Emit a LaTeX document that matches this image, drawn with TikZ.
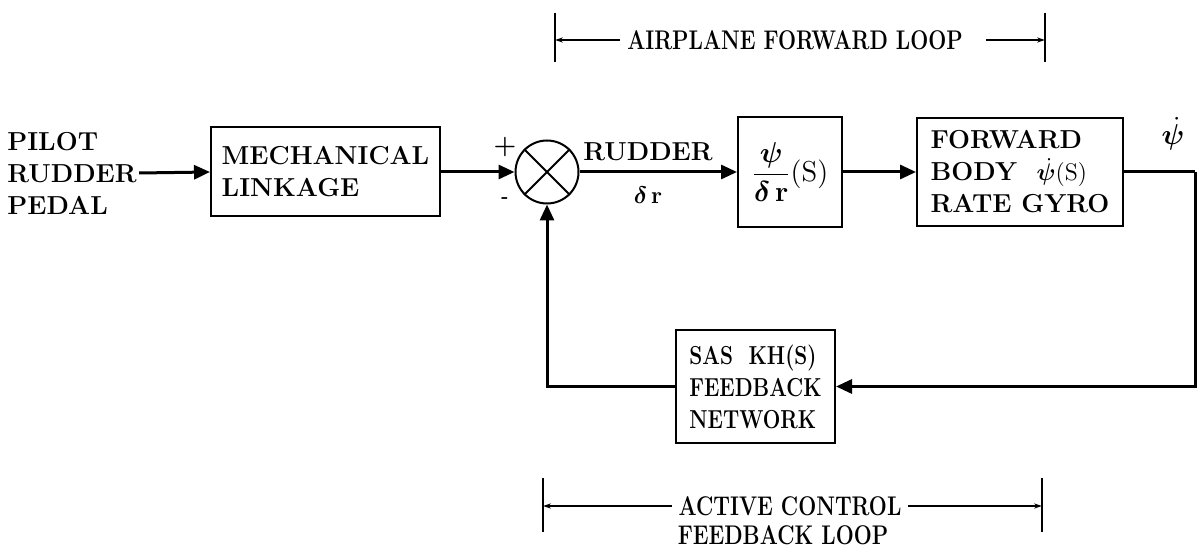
\documentclass[tikz,border=0pt]{standalone}
\usepackage{amsmath,bm}
\usetikzlibrary{arrows.meta}
\begin{document}
\begin{tikzpicture}[x=0.5pt,y=-0.5pt,
  every node/.style={font=\fontsize{13}{16}\selectfont\bfseries},
  dimtxt/.style={font=\fontsize{13.5}{17}\selectfont\bfseries},
  blk/.style={draw,line width=1pt,align=left,inner sep=0pt},
  arr/.style={line width=1.5pt,-{Triangle[length=8pt,width=7pt]}},
  ln/.style={line width=1.5pt},
  dim/.style={line width=0.6pt,-{Stealth[length=4pt,width=2.6pt]}},
  bar/.style={line width=0.6pt}]
\useasboundingbox (0,0) rectangle (1197,550);
% blocks
\node[align=left,inner sep=1pt] (pilot) at (72,173) {PILOT\\RUDDER\\PEDAL};
\node[blk,minimum width=114.5pt,minimum height=44.5pt] (mech) at (325.5,172) {MECHANICAL\\LINKAGE};
\node[draw,circle,line width=1pt,minimum size=31.5pt,inner sep=0pt] (sum) at (547,172) {};
\draw[line width=1pt] (sum.45) -- (sum.225) (sum.135) -- (sum.315);
\node (plus) at (505,147) {+};
\node[font=\small\bfseries] (minus) at (505,200) {-};
\node[blk,minimum width=52pt,minimum height=55pt,font=\fontsize{14.5}{17}\selectfont] (psi) at (790,172) {$\dfrac{\bm\psi}{\bm\delta\,\mathbf r}(\mathrm S)$};
\node[blk,minimum width=103pt,minimum height=54pt] (fwd) at (1020,172) {FORWARD\\BODY\ \ $\dot{\bm\psi}(\mathrm S)$\\RATE GYRO};
\node[blk,minimum width=79.5pt,minimum height=56.5pt] (fb) at (755.5,386.5) {\scalebox{0.8}[1]{SAS\ \ KH(S)}\\\scalebox{0.8}[1]{FEEDBACK}\\\scalebox{0.8}[1]{NETWORK}};
% labels
\node (rud) at (648,152) {RUDDER};
\node (dr) at (648,195) {$\bm\delta\,\mathbf r$};
\node[font=\fontsize{14}{17}\selectfont] (pd) at (1173,134) {$\dot{\bm\psi}$};
% connectors
\draw[arr] (pilot.east) -- (mech.west);
\draw[arr] (mech.east) -- (sum.west);
\draw[arr] (sum.east) -- (psi.west);
\draw[arr] (psi.east) -- (fwd.west);
\coordinate (c1) at (1195,172);
\draw[ln] (fwd.east) -- (c1);
\draw[arr] (c1) |- (fb.east);
\draw[arr] (fb.west) -| (sum.south);
% top dimension
\node[dimtxt] (afl) at (795,40) {\scalebox{0.79}[1]{AIRPLANE FORWARD LOOP}};
\coordinate (tl) at (555,40);
\coordinate (tr) at (1045,40);
\draw[bar] (555,13) -- (555,62);
\draw[bar] (1045,13) -- (1045,62);
\draw[dim] (afl.west) -- (tl);
\draw[dim] ([xshift=8pt]afl.east) -- (tr);
% bottom dimension
\node[dimtxt] (acl) at (790,506) {\scalebox{0.79}[1]{ACTIVE CONTROL}};
\node[dimtxt] (fbl) at (783,535) {\scalebox{0.79}[1]{FEEDBACK LOOP}};
\coordinate (bl) at (543,506);
\coordinate (br) at (1042,506);
\draw[bar] (543,478) -- (543,532);
\draw[bar] (1042,478) -- (1042,532);
\draw[dim] (acl.west) -- (bl);
\draw[dim] (acl.east) -- (br);
\end{tikzpicture}
\end{document}
